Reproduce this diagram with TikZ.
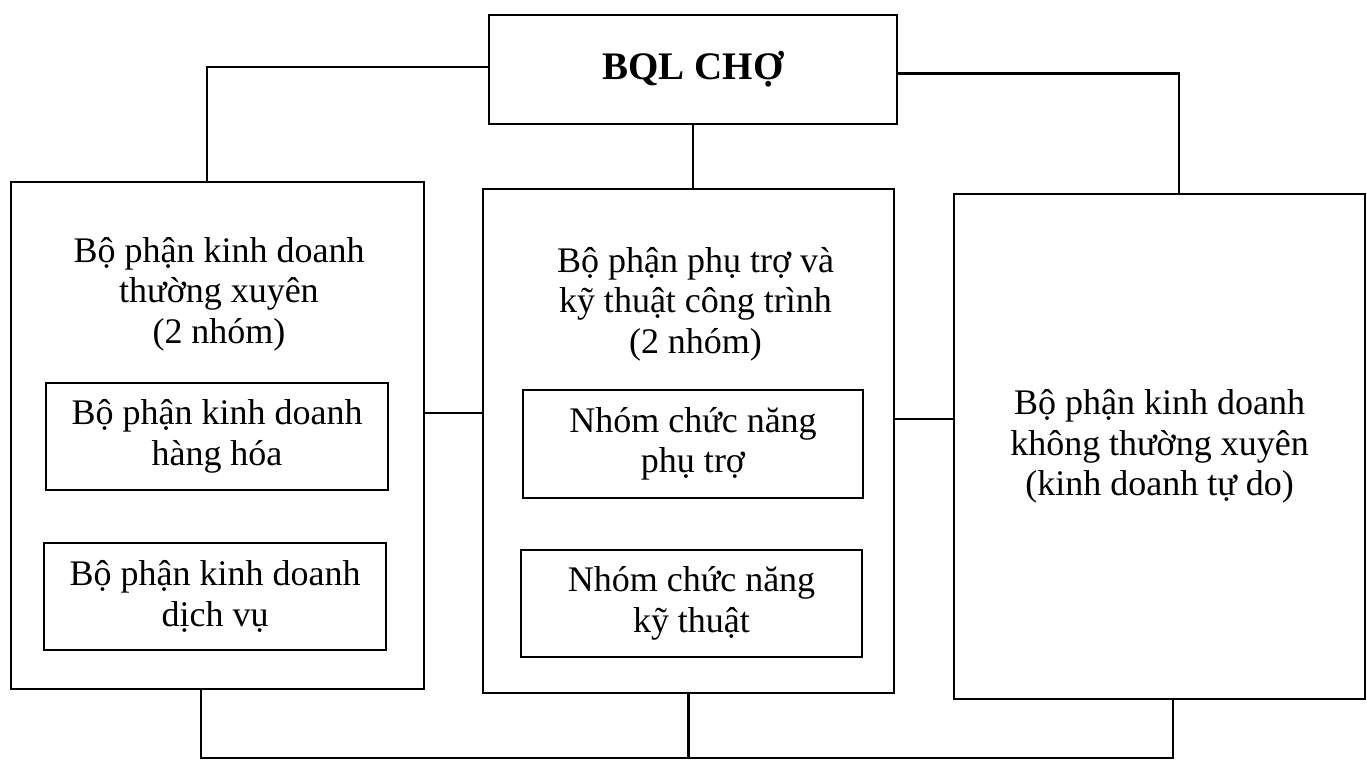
\documentclass[tikz,border=0pt]{standalone}
\usepackage{fontspec}
\setmainfont{Liberation Serif}
\begin{document}
\begin{tikzpicture}[x=1pt,y=-1pt,
  line width=2.6pt,
  bx/.style={draw, rectangle, inner sep=0pt, align=center},
  txt/.style={inner sep=0pt, align=center, font=\fontsize{36}{40.5}\selectfont},
  conn/.style={draw, line width=2.4pt}]
\useasboundingbox (0,0) rectangle (1367,763);
% top box
\node[bx, minimum width=408pt, minimum height=109pt, font=\fontsize{39}{44}\selectfont\bfseries] (top) at (693,69.5) {\raisebox{-3pt}{BQL CHỢ}};
% outer boxes
\node[bx, minimum width=413pt, minimum height=507pt] (left) at (217.5,435.5) {};
\node[bx, minimum width=411pt, minimum height=504pt] (mid) at (688.5,441) {};
\node[bx, txt, draw, minimum width=411pt, minimum height=505pt] (right) at (1159.5,446.5) {Bộ phận kinh doanh\\không thường xuyên\\(kinh doanh tự do)};
% titles
\node[txt] (lefttitle) at (219,294) {Bộ phận kinh doanh\\thường xuyên\\(2 nhóm)};
\node[txt] (midtitle) at (695.5,304) {Bộ phận phụ trợ và\\kỹ thuật công trình\\(2 nhóm)};
% inner boxes
\node[bx, txt, draw, minimum width=342pt, minimum height=107pt] (l1) at (217,436.5) {Bộ phận kinh doanh\\hàng hóa};
\node[bx, txt, draw, minimum width=342pt, minimum height=107pt] (l2) at (215,596.5) {Bộ phận kinh doanh\\dịch vụ};
\node[bx, txt, draw, minimum width=340pt, minimum height=108pt] (m1) at (693,444) {Nhóm chức năng\\phụ trợ};
\node[bx, txt, draw, minimum width=341pt, minimum height=107pt] (m2) at (691.5,603.5) {Nhóm chức năng\\kỹ thuật};
% connectors
\draw[conn] ([yshift=2.5pt]top.west) -| ([xshift=-10.5pt]left.north);
\draw[conn] ([yshift=-4pt]top.east) -| ([xshift=19.5pt]right.north);
\draw[conn] (top.south) -- (top.south |- mid.north);
\draw[conn] ([yshift=22.5pt]left.east) -- ([yshift=22.5pt]left.east -| mid.west);
\draw[conn] ([yshift=22pt]mid.east) -- ([yshift=22pt]mid.east -| right.west);
\coordinate (bl) at (201,758);
\coordinate (br) at (1173,758);
\draw[conn] ([xshift=-16.5pt]left.south) -- (bl) -- (br) -- ([xshift=13.5pt]right.south);
\draw[conn] (mid.south) -- (mid.south |- bl);
\end{tikzpicture}
\end{document}
